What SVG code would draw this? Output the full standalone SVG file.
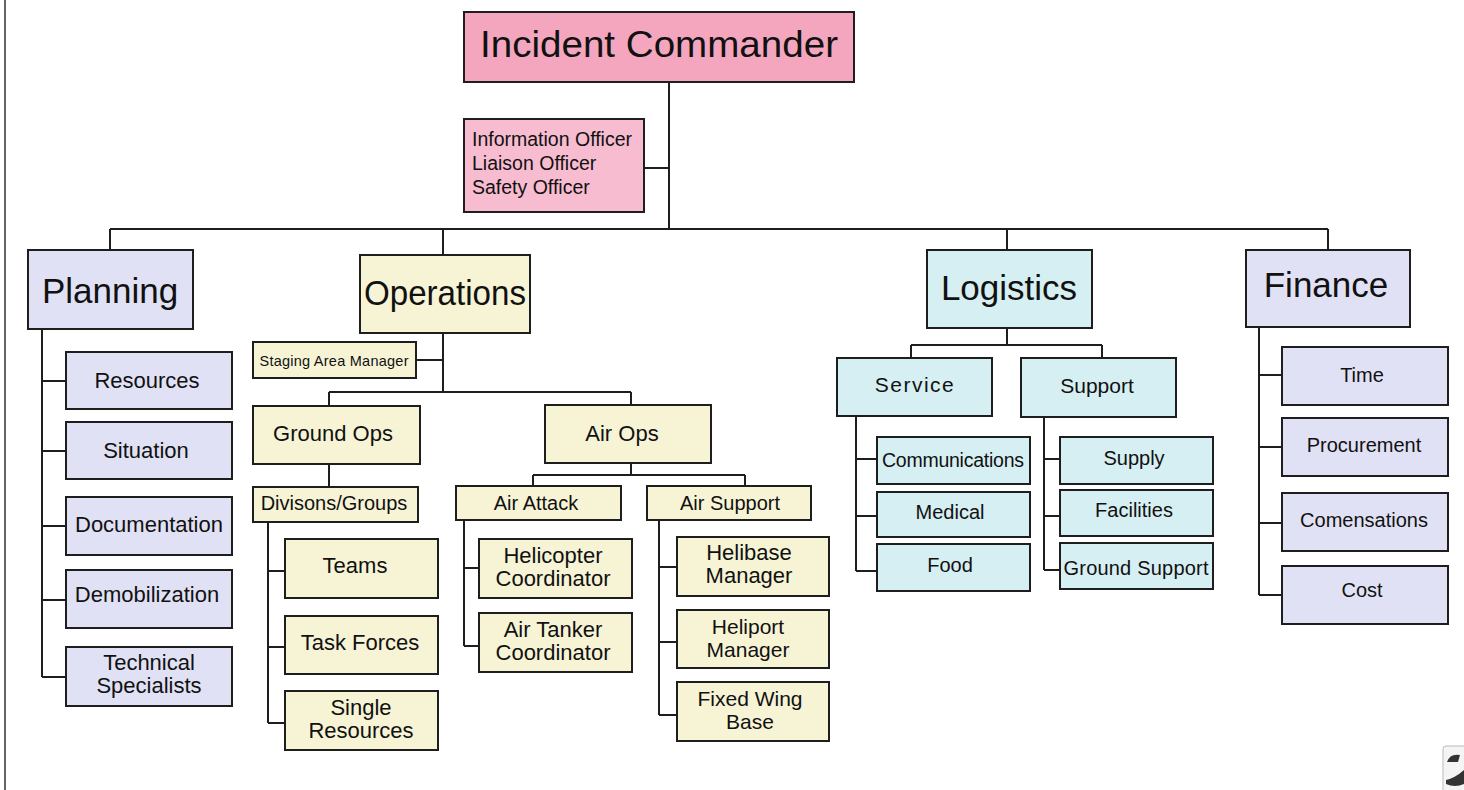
<svg xmlns="http://www.w3.org/2000/svg" width="1464" height="790" viewBox="0 0 1464 790">
<style>
.bx{stroke:#1e1e1e;stroke-width:2}
.pk{fill:#f4a6bf}.pk2{fill:#f8bcd1}.lv{fill:#e1e1f5}.cr{fill:#f7f4d6}.cy{fill:#d6eff3}
text{font-family:"Liberation Sans",Arial,sans-serif;fill:#111;text-anchor:middle}
.xl{font-size:37px}.l{font-size:35px}.m{font-size:22px}.m2{font-size:21px}.s{font-size:20px}
.con{fill:none;stroke:#1e1e1e;stroke-width:2}
</style>
<rect width="1464" height="790" fill="#fff"/>
<line x1="5" y1="0" x2="5" y2="790" stroke="#333" stroke-width="1.5"/>
<g id="connectors" class="con">
<path d="M669,82V229M644,168H669M110,229H1328M110,229V250M443,229V255M1007,229V250M1328,229V250"/>
<path d="M42,329V677M42,381H66M42,451H66M42,526H66M42,600H66M42,677H66"/>
<path d="M443,333V392M416,360H443M329,392H631M329,392V406M631,392V405"/>
<path d="M329,464V487M268,522V723M268,571H285M268,647H285M268,723H285"/>
<path d="M631,463V475M533,475H745M533,475V486M745,475V486"/>
<path d="M464,520V646M464,568H479M464,646H479"/>
<path d="M659,520V715M659,567H677M659,642H677M659,715H677"/>
<path d="M1007,328V345M911,345H1102M911,345V358M1102,345V358"/>
<path d="M856,416V571M856,459H877M856,516H877M856,571H877"/>
<path d="M1044,417V570M1044,459H1060M1044,516H1060M1044,570H1060"/>
<path d="M1259,327V595M1259,375H1282M1259,447H1282M1259,523H1282M1259,595H1282"/>
</g>
<g id="incident-commander"><rect class="bx pk" x="464" y="12" width="390" height="70"/><text class="xl" x="659" y="57" textLength="358" lengthAdjust="spacingAndGlyphs">Incident Commander</text></g>
<g id="officers"><rect class="bx pk2" x="464" y="119" width="180" height="93"/><text x="472" y="146" style="font-size:19.5px;text-anchor:start">Information Officer</text><text x="472" y="170" style="font-size:19.5px;text-anchor:start">Liaison Officer</text><text x="472" y="194" style="font-size:19.5px;text-anchor:start">Safety Officer</text></g>

<g id="planning"><rect class="bx lv" x="28" y="250" width="165" height="79"/><text class="l" x="110" y="303">Planning</text></g>
<g id="resources"><rect class="bx lv" x="66" y="352" width="166" height="57"/><text class="m" x="147" y="388">Resources</text></g>
<g id="situation"><rect class="bx lv" x="66" y="422" width="166" height="57"/><text class="m" x="146" y="458">Situation</text></g>
<g id="documentation"><rect class="bx lv" x="66" y="497" width="166" height="58"/><text class="m" x="149" y="532">Documentation</text></g>
<g id="demobilization"><rect class="bx lv" x="66" y="570" width="166" height="58"/><text class="m" x="147" y="602">Demobilization</text></g>
<g id="technical-specialists"><rect class="bx lv" x="66" y="647" width="166" height="59"/><text class="m" x="149" y="670">Technical</text><text class="m" x="149" y="693">Specialists</text></g>

<g id="operations"><rect class="bx cr" x="360" y="255" width="170" height="78"/><text class="l" x="445" y="305" textLength="162" lengthAdjust="spacingAndGlyphs">Operations</text></g>
<g id="staging"><rect class="bx cr" x="253" y="342" width="163" height="36"/><text x="334" y="366" style="font-size:14.5px" textLength="149">Staging Area Manager</text></g>
<g id="ground-ops"><rect class="bx cr" x="253" y="406" width="167" height="58"/><text class="m" x="333" y="441">Ground Ops</text></g>
<g id="divisions"><rect class="bx cr" x="253" y="487" width="165" height="35"/><text class="s" x="334" y="510">Divisons/Groups</text></g>
<g id="teams"><rect class="bx cr" x="285" y="539" width="153" height="59"/><text class="m" x="355" y="573">Teams</text></g>
<g id="task-forces"><rect class="bx cr" x="285" y="616" width="153" height="58"/><text class="m" x="360" y="650">Task Forces</text></g>
<g id="single-resources"><rect class="bx cr" x="285" y="691" width="153" height="59"/><text class="m" x="361" y="715">Single</text><text class="m" x="361" y="738">Resources</text></g>
<g id="air-ops"><rect class="bx cr" x="545" y="405" width="166" height="58"/><text class="m" x="622" y="441">Air Ops</text></g>
<g id="air-attack"><rect class="bx cr" x="456" y="486" width="165" height="34"/><text class="s" x="536" y="510">Air Attack</text></g>
<g id="air-support"><rect class="bx cr" x="647" y="486" width="164" height="34"/><text class="s" x="730" y="510">Air Support</text></g>
<g id="helicopter-coordinator"><rect class="bx cr" x="479" y="539" width="153" height="59"/><text class="m" x="553" y="563">Helicopter</text><text class="m" x="553" y="586">Coordinator</text></g>
<g id="air-tanker-coordinator"><rect class="bx cr" x="479" y="613" width="153" height="59"/><text class="m" x="553" y="637">Air Tanker</text><text class="m" x="553" y="660">Coordinator</text></g>
<g id="helibase-manager"><rect class="bx cr" x="677" y="537" width="152" height="59"/><text class="m" x="749" y="560">Helibase</text><text class="m" x="749" y="583">Manager</text></g>
<g id="heliport-manager"><rect class="bx cr" x="677" y="610" width="152" height="58"/><text class="m2" x="748" y="634">Heliport</text><text class="m2" x="748" y="657">Manager</text></g>
<g id="fixed-wing-base"><rect class="bx cr" x="677" y="682" width="152" height="59"/><text class="m2" x="750" y="706">Fixed Wing</text><text class="m2" x="750" y="729">Base</text></g>

<g id="logistics"><rect class="bx cy" x="927" y="250" width="165" height="78"/><text class="l" x="1009" y="300">Logistics</text></g>
<g id="service"><rect class="bx cy" x="837" y="358" width="155" height="58"/><text x="915" y="392" style="font-size:21px;letter-spacing:1.5px">Service</text></g>
<g id="support"><rect class="bx cy" x="1021" y="358" width="155" height="59"/><text x="1097" y="393" style="font-size:21px">Support</text></g>
<g id="communications"><rect class="bx cy" x="877" y="437" width="153" height="47"/><text x="953" y="467" style="font-size:19.5px" textLength="142">Communications</text></g>
<g id="medical"><rect class="bx cy" x="877" y="492" width="153" height="45"/><text class="s" x="950" y="519">Medical</text></g>
<g id="food"><rect class="bx cy" x="877" y="544" width="153" height="47"/><text class="s" x="950" y="572">Food</text></g>
<g id="supply"><rect class="bx cy" x="1060" y="437" width="153" height="47"/><text class="s" x="1134" y="465">Supply</text></g>
<g id="facilities"><rect class="bx cy" x="1060" y="490" width="153" height="46"/><text class="s" x="1134" y="517">Facilities</text></g>
<g id="ground-support"><rect class="bx cy" x="1060" y="543" width="153" height="46"/><text class="s" x="1136" y="575" textLength="145">Ground Support</text></g>

<g id="finance"><rect class="bx lv" x="1246" y="250" width="164" height="77"/><text class="l" x="1326" y="297">Finance</text></g>
<g id="time"><rect class="bx lv" x="1282" y="347" width="166" height="58"/><text class="s" x="1362" y="382">Time</text></g>
<g id="procurement"><rect class="bx lv" x="1282" y="418" width="166" height="58"/><text class="s" x="1364" y="452">Procurement</text></g>
<g id="comensations"><rect class="bx lv" x="1282" y="493" width="166" height="58"/><text class="s" x="1364" y="527">Comensations</text></g>
<g id="cost"><rect class="bx lv" x="1282" y="566" width="166" height="58"/><text class="s" x="1362" y="597">Cost</text></g>

<g id="corner-mark"><rect x="1443" y="746" width="30" height="50" rx="3" fill="#f4f4f4" stroke="#bbb" stroke-width="1"/><path d="M1447,762 Q1450,753 1460,755 L1458,762 Z" fill="#333"/><path d="M1446,780 Q1455,778 1464,770 L1464,784 Q1455,788 1446,784 Z" fill="#333"/></g>
</svg>
